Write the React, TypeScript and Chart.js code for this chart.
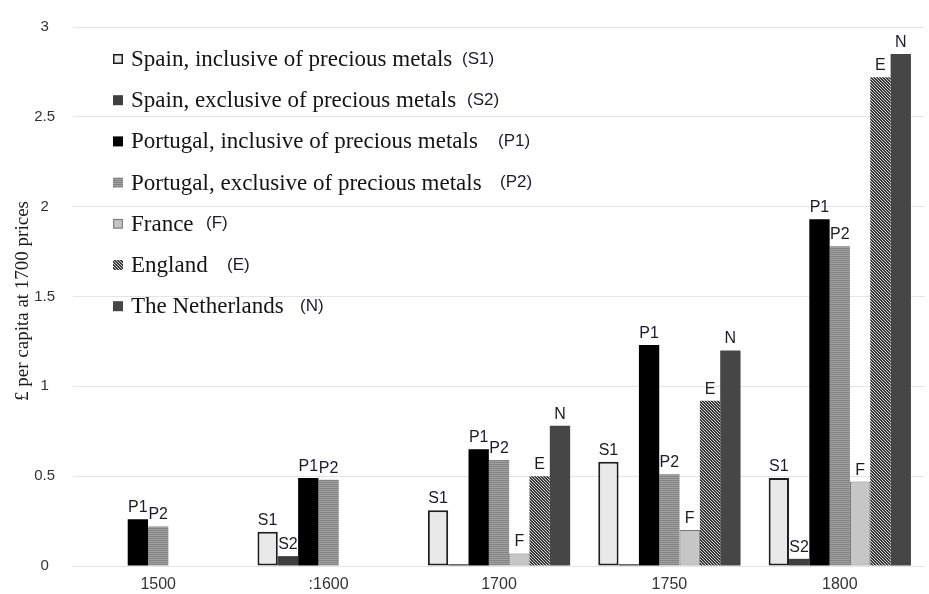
import React, { useEffect, useRef } from "react";
import { Chart, registerables } from "chart.js";
Chart.register(...registerables);

const categories = ["1500", ":1600", "1700", "1750", "1800"];
const seriesNames = [
  "Spain, inclusive of precious metals",
  "Spain, exclusive of precious metals",
  "Portugal, inclusive of precious metals",
  "Portugal, exclusive of precious metals",
  "France",
  "England",
  "The Netherlands",
];
const seriesCodes = ["S1", "S2", "P1", "P2", "F", "E", "N"];
const codeOffsets = [462, 467, 498, 500, 206, 227, 300];

const spainIncl = [null, 0.19, 0.31, 0.58, 0.49];
const spainExcl = [null, 0.055, 0.01, 0.01, 0.04];
const portugalIncl = [0.26, 0.49, 0.65, 1.23, 1.93];
const portugalExcl = [0.22, 0.48, 0.59, 0.51, 1.78];
const france = [null, null, 0.07, 0.2, 0.47];
const england = [null, null, 0.5, 0.92, 2.72];
const netherlands = [null, null, 0.78, 1.2, 2.85];
const yTickStep = 0.5;
const yMax = 3;
const yTitle = "\u00a3 per capita at 1700 prices";

function makePattern(kind: "h" | "d"): CanvasPattern | string {
  const c = document.createElement("canvas");
  const ctx = c.getContext("2d");
  if (!ctx) return "#888";
  if (kind === "h") {
    c.width = 4;
    c.height = 2;
    ctx.fillStyle = "#a2a2a2";
    ctx.fillRect(0, 0, 4, 2);
    ctx.fillStyle = "#828282";
    ctx.fillRect(0, 0, 4, 1);
  } else {
    c.width = 3;
    c.height = 3;
    ctx.fillStyle = "#3a3a3a";
    ctx.fillRect(0, 0, 3, 3);
    ctx.fillStyle = "#cfcfcf";
    for (let i = 0; i < 3; i++) {
      ctx.fillRect(i, i, 1, 1);
    }
  }
  const p = ctx.createPattern(c, "repeat");
  return p || "#888";
}

export default function App() {
  const ref = useRef<HTMLCanvasElement | null>(null);
  useEffect(() => {
    if (!ref.current) return;
    const hPat = makePattern("h");
    const dPat = makePattern("d");
    const fills: any[] = ["#e9e9e9", "#3f3f3f", "#000000", hPat, "#c6c6c6", dPat, "#464646"];
    const borders = ["#1e1e1e", "#3f3f3f", "#000000", "#9a9a9a", "#747474", "#3c3c3c", "#464646"];
    const bw = [2, 0, 0, 0, 1, 0, 0];
    const values = [spainIncl, spainExcl, portugalIncl, portugalExcl, france, england, netherlands];

    const labelPlugin = {
      id: "barLabels",
      afterDatasetsDraw(chart: any) {
        const ctx = chart.ctx;
        ctx.save();
        ctx.font = "16px 'Liberation Sans', Arial, sans-serif";
        ctx.fillStyle = "#1c1c28";
        ctx.textAlign = "center";
        ctx.textBaseline = "alphabetic";
        chart.data.datasets.forEach((ds: any, i: number) => {
          const meta = chart.getDatasetMeta(i);
          meta.data.forEach((el: any, j: number) => {
            const v = ds.data[j];
            if (v === null || v < 0.02) return;
            ctx.fillText(seriesCodes[i], el.x, el.y - 7);
          });
        });
        ctx.restore();
      },
    };

    const legendPlugin = {
      id: "customLegend",
      afterDraw(chart: any) {
        const ctx = chart.ctx;
        ctx.save();
        for (let i = 0; i < seriesNames.length; i++) {
          const cy = 59 + i * 41.2;
          const bx = 113;
          const by = cy - 5;
          ctx.fillStyle = fills[i];
          ctx.fillRect(bx, by, 10, 10);
          if (i === 0 || i === 4) {
            ctx.strokeStyle = i === 0 ? "#1e1e1e" : "#747474";
            ctx.lineWidth = i === 0 ? 1.5 : 1;
            ctx.strokeRect(bx + 0.75, by + 0.75, 8.5, 8.5);
          }
          ctx.fillStyle = "#141414";
          ctx.textAlign = "left";
          ctx.textBaseline = "middle";
          ctx.font = "23px 'Liberation Serif', 'Times New Roman', serif";
          ctx.fillText(seriesNames[i], 131, cy + 1);
          ctx.font = "17px 'Liberation Sans', Arial, sans-serif";
          ctx.fillStyle = "#1c1c28";
          ctx.fillText("(" + seriesCodes[i] + ")", codeOffsets[i], cy);
        }
        ctx.restore();
      },
    };

    const titlePlugin = {
      id: "yTitle",
      afterDraw(chart: any) {
        const ctx = chart.ctx;
        ctx.save();
        ctx.translate(23, 301);
        ctx.rotate(-Math.PI / 2);
        ctx.font = "19px 'Liberation Serif', 'Times New Roman', serif";
        ctx.fillStyle = "#1a1a1a";
        ctx.textAlign = "center";
        ctx.textBaseline = "middle";
        ctx.fillText(yTitle, 0, 0);
        ctx.restore();
      },
    };

    const chart = new Chart(ref.current, {
      type: "bar",
      data: {
        labels: categories,
        datasets: values.map((vals, i) => ({
          label: seriesNames[i],
          data: vals as any,
          backgroundColor: fills[i],
          borderColor: borders[i],
          borderWidth: bw[i],
          borderSkipped: false,
          barPercentage: 1,
          categoryPercentage: 0.835,
        })),
      },
      options: {
        animation: false,
        responsive: false,
        maintainAspectRatio: false,
        devicePixelRatio: 1,
        layout: { padding: { top: 17, right: 4, left: 0, bottom: 0 } },
        plugins: {
          legend: { display: false },
          tooltip: { enabled: false },
        },
        scales: {
          x: {
            grid: { display: false, drawTicks: false },
            border: { display: false },
            ticks: {
              font: { family: "'Liberation Sans', Arial, sans-serif", size: 16 },
              color: "#333333",
              padding: 9,
            },
            afterFit: (s: any) => {
              s.height = 28;
            },
          },
          y: {
            min: 0,
            max: yMax,
            ticks: {
              stepSize: yTickStep,
              padding: 18,
              crossAlign: "center",
              font: { family: "'Liberation Sans', Arial, sans-serif", size: 15 },
              color: "#333333",
              callback: (v: any) => String(Number(v)),
            },
            grid: { color: "#e4e4e4", drawTicks: false, lineWidth: 1 },
            border: { display: false },
            afterFit: (s: any) => {
              s.width = 73;
            },
          },
        },
      },
      plugins: [labelPlugin, legendPlugin, titlePlugin],
    });
    return () => chart.destroy();
  }, []);

  return (
    <div style={{ position: "fixed", left: 0, top: 0, width: 929, height: 594, background: "#ffffff" }}>
      <canvas ref={ref} width={929} height={594} style={{ display: "block" }} />
    </div>
  );
}
